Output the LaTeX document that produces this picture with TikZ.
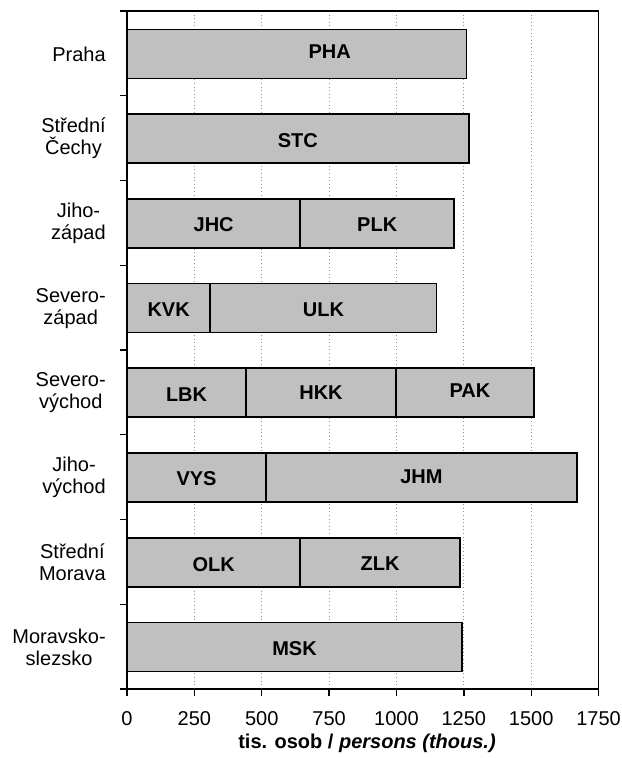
\documentclass[tikz,border=0pt]{standalone}
\usepackage{fontspec}
\setmainfont{Liberation Sans}
\definecolor{barfill}{HTML}{C0C0C0}
\definecolor{gridgray}{HTML}{909090}

\begin{document}
\begin{tikzpicture}[x=0.75pt, y=-0.75pt,
    font=\fontsize{15}{16.5}\selectfont,
    seg/.style={draw, line width=1.3pt, fill=barfill},
    seglabel/.style={font=\fontsize{15}{16.5}\selectfont\bfseries, inner sep=0pt},
    catlabel/.style={align=center, anchor=east, inner sep=0pt},
    gridline/.style={gridgray, dotted, line width=0.7pt}]
  \useasboundingbox (0,0) rectangle (622,758);

  % category labels and left ticks
  \foreach \k/\txt in {0/{Praha}, 1/{Střední\\Čechy}, 2/{Jiho-\\západ},
      3/{Severo-\\západ}, 4/{Severo-\\východ}, 5/{Jiho-\\východ},
      6/{Střední\\Morava}, 7/{Moravsko-\\slezsko}}
    \node [catlabel] (cat\k) at (106, {54+84.7*\k}) {\txt};
  \foreach \k in {0,...,8}
    \draw [line width=1pt] (120, {11+84.75*\k}) -- (127, {11+84.75*\k});

  \begin{scope}[xshift=95.25pt, x=0.2021pt]
    \foreach \v in {250,500,...,1500}
      \draw [gridline] (\v, 11) -- (\v, 689);
    \draw [line width=1pt] (0, 11) -- (1750, 11) -- (1750, 689);

    % stacked bars: row / from / to / label / label shift
    \foreach \k/\a/\b/\lab/\dx/\dy in {0/0/1260/PHA/122/-2, 1/0/1268/STC/0/2,
        2/0/643/JHC/0/1, 2/643/1214/PLK/0/1,
        3/0/309/KVK/0/2, 3/309/1149/ULK/0/2,
        4/0/442/LBK/0/2, 4/442/998/HKK/0/0, 4/998/1511/PAK/18/-2,
        5/0/516/VYS/0/1, 5/516/1669/JHM/0/-1,
        6/0/643/OLK/0/2, 6/643/1236/ZLK/0/1,
        7/0/1243/MSK/0/2} {
      \draw [seg] (\a, {54+84.7*\k-24.5}) rectangle (\b, {54+84.7*\k+24.5});
      \node [seglabel] (\lab) at ({(\a+\b)/2+\dx}, {54+84.7*\k+\dy}) {\lab};
    }

    \draw [line width=1.6pt] (0, 11) -- (0, 689) -- (1750, 689);
    \foreach \v in {0,250,...,1750} {
      \draw [line width=1pt] (\v, 689) -- (\v, 696);
      \node (tick\v) at (\v, 719) {\v};
    }
  \end{scope}

  \node [font=\fontsize{15}{16.5}\selectfont\bfseries] (title) at (367, 743)
    {tis. osob / \textit{persons (thous.)}};
\end{tikzpicture}
\end{document}
